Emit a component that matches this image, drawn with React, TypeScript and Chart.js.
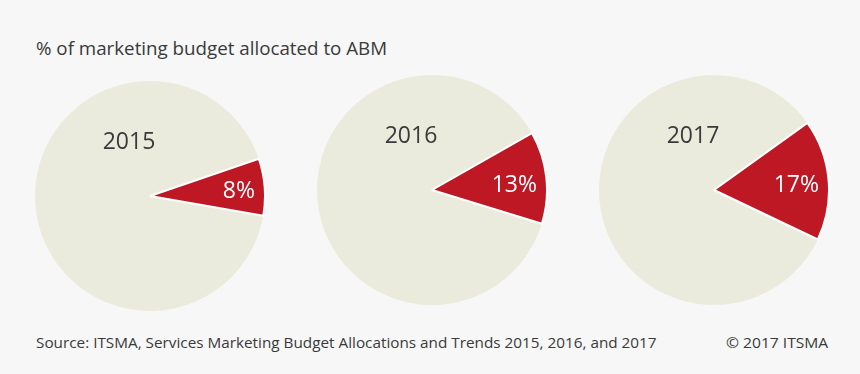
import React, { useEffect, useLayoutEffect, useRef } from "react";
import { Chart, registerables } from "chart.js";

Chart.register(...registerables);

// ---- data ----
const years: string[] = ["2015", "2016", "2017"];
const abmShare: number[] = [8, 13, 17];
const otherShare: number[] = abmShare.map((v) => 100 - v);
const sliceTopEdgeDeg: number[] = [18.9, 29.7, 35.7];

const titleText = "% of marketing budget allocated to ABM";
const sourceText =
  "Source: ITSMA, Services Marketing Budget Allocations and Trends 2015, 2016, and 2017";
const copyrightText = "\u00A9 2017 ITSMA";

// ---- style ----
const BG = "#f7f7f7";
const BEIGE = "#ebebdd";
const RED = "#be1825";
const TEXT = "#3a3a3a";
const FONT = '"Open Sans", "Noto Sans", sans-serif';
const SIZE = 232;

const pieLabelPlugin = {
  id: "pieLabels",
  afterDatasetsDraw(chart: any) {
    const ctx = chart.ctx;
    const meta = chart.getDatasetMeta(0);
    const red = meta.data[1];
    if (!red) return;
    const p = red.getProps(["x", "y", "outerRadius"], true);
    const idx = chart.options.plugins.pieLabels.index;
    ctx.save();
    ctx.font = `23px ${FONT}`;
    ctx.fillStyle = "#ffffff";
    ctx.textAlign = "right";
    ctx.textBaseline = "middle";
    ctx.fillText(abmShare[idx] + "%", p.x + p.outerRadius - 10, p.y - 5);
    ctx.fillStyle = TEXT;
    ctx.textAlign = "center";
    ctx.font = `23px ${FONT}`;
    ctx.fillText(years[idx], p.x - 21, p.y - 54);
    ctx.restore();
  },
};

function Pie({ index, left, top }: { index: number; left: number; top: number }) {
  const ref = useRef<HTMLCanvasElement | null>(null);
  useEffect(() => {
    if (!ref.current) return;
    const span = abmShare[index] * 3.6;
    const rotation = 90 - sliceTopEdgeDeg[index] + span;
    const chart = new Chart(ref.current, {
      type: "pie",
      data: {
        labels: ["Other", "ABM"],
        datasets: [
          {
            data: [otherShare[index], abmShare[index]],
            backgroundColor: [BEIGE, RED],
            borderColor: ["#ffffff", "#ffffff"],
            borderWidth: [0, 2],
          },
        ],
      },
      options: {
        responsive: false,
        animation: false,
        events: [],
        rotation,
        layout: { padding: 0 },
        plugins: {
          legend: { display: false },
          tooltip: { enabled: false },
          pieLabels: { index },
        } as any,
      },
      plugins: [pieLabelPlugin],
    });
    return () => chart.destroy();
  }, [index]);
  return (
    <canvas
      ref={ref}
      width={SIZE}
      height={SIZE}
      style={{ position: "absolute", left, top, width: SIZE, height: SIZE }}
    />
  );
}

function FitText({
  text,
  left,
  top,
  size,
  width,
}: {
  text: string;
  left: number;
  top: number;
  size: number;
  width: number;
}) {
  const ref = useRef<HTMLSpanElement | null>(null);
  useLayoutEffect(() => {
    const el = ref.current;
    if (!el) return;
    const w = el.offsetWidth;
    if (w > 0) el.style.transform = `scaleX(${width / w})`;
  }, [text, width]);
  return (
    <span
      ref={ref}
      style={{
        position: "absolute",
        left,
        top,
        fontFamily: FONT,
        fontSize: size,
        lineHeight: `${size}px`,
        color: TEXT,
        whiteSpace: "nowrap",
        transformOrigin: "0 0",
      }}
    >
      {text}
    </span>
  );
}

export default function App() {
  useEffect(() => {
    document.body.style.margin = "0";
    document.body.style.background = BG;
  }, []);
  const centers = [
    [150, 196],
    [432, 190],
    [714, 190],
  ];
  return (
    <div
      style={{
        position: "fixed",
        left: 0,
        top: 0,
        width: 860,
        height: 374,
        background: BG,
        overflow: "hidden",
      }}
    >
      <FitText text={titleText} left={36} top={39} size={18} width={351} />
      {centers.map(([cx, cy], i) => (
        <Pie key={i} index={i} left={cx - SIZE / 2} top={cy - SIZE / 2} />
      ))}
      <FitText text={sourceText} left={36} top={335} size={15} width={621} />
      <FitText text={copyrightText} left={726} top={335} size={15} width={102} />
    </div>
  );
}
